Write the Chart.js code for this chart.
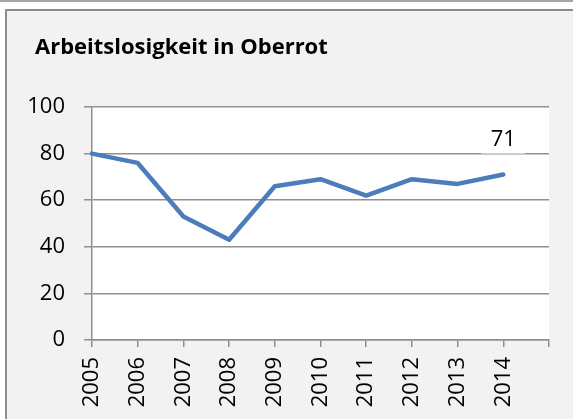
<!DOCTYPE html>
<html>
<head>
<meta charset="utf-8">
<script src="https://cdn.jsdelivr.net/npm/chart.js@4.4.1/dist/chart.umd.min.js"></script>
<style>
  html, body { margin: 0; padding: 0; background: #fff; overflow: hidden; }
  body { width: 573px; height: 419px; position: relative; }
  .topline { position: absolute; left: 0; top: 0; width: 573px; height: 2px; background: #a6a6a6; }
  .frame {
    position: absolute; left: 5px; top: 9px; width: 566px; height: 408px;
    border-top: 2px solid #8c8c8c; border-left: 2px solid #8c8c8c;
    background: #f2f2f2;
  }
  canvas { display: block; }
</style>
</head>
<body>
<div class="topline"></div>
<div class="frame"><canvas id="chart" width="566" height="408"></canvas></div>
<script>
// Arbeitslosigkeit in Oberrot, 2005-2014
const years = ['2005', '2006', '2007', '2008', '2009', '2010', '2011', '2012', '2013', '2014'];
const values = [80, 76, 53, 43, 66, 69, 62, 69, 67, 71];
const yTicks = [0, 20, 40, 60, 80, 100];

// Excel puts points on the tick marks with one empty slot at the end
const labels = years.concat(['']);

const font = "'Open Sans', 'DejaVu Sans', sans-serif";
const gridColor = '#8f8f8f';

// white plot area on grey chart background
const plotBg = {
    id: 'plotBg',
    beforeDraw(chart) {
        const a = chart.chartArea;
        const ctx = chart.ctx;
        ctx.save();
        ctx.fillStyle = '#ffffff';
        ctx.fillRect(a.left, a.top, a.right - a.left, a.bottom - a.top);
        ctx.restore();
    }
};

// title sits a bit in from the frame edge
const titleIndent = {
    id: 'titleIndent',
    afterLayout(chart) {
        if (chart.titleBlock) chart.titleBlock.left = 28;
    }
};

// data label only on the last point
const lastLabel = {
    id: 'lastLabel',
    afterDatasetsDraw(chart) {
        const meta = chart.getDatasetMeta(0);
        const i = values.length - 1;
        const pt = meta.data[i];
        const ctx = chart.ctx;
        const cx = pt.x;
        const cy = pt.y - 35;
        ctx.save();
        ctx.fillStyle = '#ffffff';
        ctx.fillRect(cx - 22, cy - 13, 44, 27);
        ctx.fillStyle = '#000000';
        ctx.font = '22px ' + font;
        ctx.textAlign = 'center';
        ctx.textBaseline = 'middle';
        ctx.fillText(String(values[i]), cx, cy);
        ctx.restore();
    }
};

new Chart(document.getElementById('chart'), {
    type: 'line',
    data: {
        labels: labels,
        datasets: [{
            data: values,
            borderColor: '#4a7dba',
            borderWidth: 4.5,
            pointRadius: 0,
            tension: 0,
            borderJoinStyle: 'round',
            borderCapStyle: 'round'
        }]
    },
    options: {
        responsive: false,
        animation: false,
        layout: { padding: { left: 0, right: 24, top: 0, bottom: 0 } },
        plugins: {
            legend: { display: false },
            tooltip: { enabled: false },
            title: {
                display: true,
                text: 'Arbeitslosigkeit in Oberrot',
                align: 'start',
                color: '#000000',
                font: { family: font, size: 22, weight: 'bold', lineHeight: 1.2 },
                padding: { top: 24, bottom: 45.6 }
            }
        },
        scales: {
            x: {
                offset: false,
                grid: {
                    drawOnChartArea: false,
                    drawTicks: true,
                    tickLength: 7,
                    color: gridColor,
                    lineWidth: 1.5
                },
                border: { color: gridColor, width: 1.5 },
                ticks: {
                    autoSkip: false,
                    minRotation: 90,
                    maxRotation: 90,
                    padding: 10,
                    color: '#000000',
                    font: { family: font, size: 22 }
                },
                afterFit(scale) {
                    scale.height = 79;
                    scale.paddingLeft = 0;
                    scale.paddingRight = 0;
                }
            },
            y: {
                min: 0,
                max: 100,
                afterBuildTicks(scale) { scale.ticks = yTicks.map(v => ({ value: v })); },
                grid: {
                    color: gridColor,
                    lineWidth: 1.5,
                    tickLength: 8
                },
                border: { color: gridColor, width: 1.5 },
                ticks: {
                    padding: 19,
                    color: '#000000',
                    font: { family: font, size: 22 }
                },
                afterFit(scale) { scale.width = 85; }
            }
        }
    },
    plugins: [plotBg, titleIndent, lastLabel]
});
</script>
</body>
</html>
